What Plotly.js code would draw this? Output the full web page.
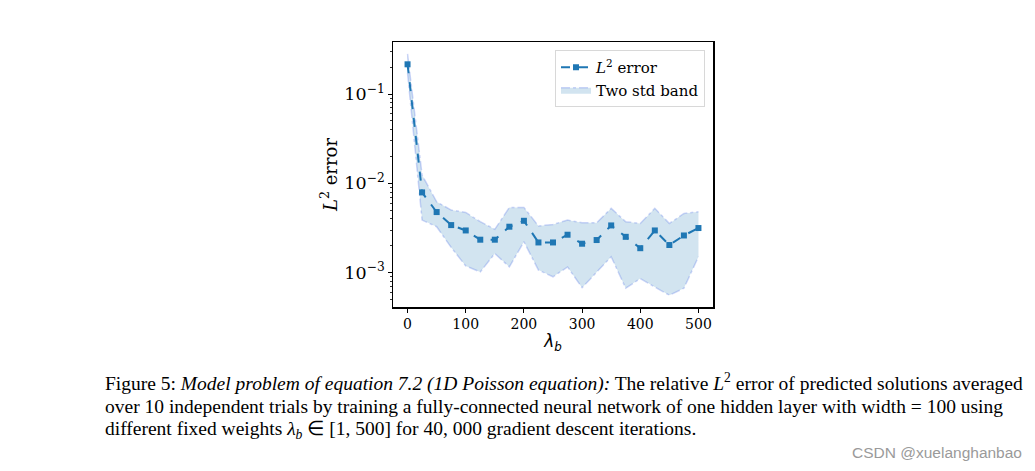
<!DOCTYPE html>
<html>
<head>
<meta charset="utf-8">
<script src="https://cdn.plot.ly/plotly-3.0.1.min.js"></script>
<style>html,body{margin:0;padding:0;background:#fff;} #chart{width:1035px;height:471px;}</style>
</head>
<body>
<div id="chart"></div>
<script>
// ---- data ----
const lambdaB = [0, 25, 50, 75, 100, 125, 150, 175, 200, 225, 250, 275, 300, 325, 350, 375, 400, 425, 450, 475, 500];
const meanErr = [0.215, 0.00792, 0.00477, 0.00341, 0.00297, 0.00234, 0.00234, 0.00327, 0.00381, 0.00218, 0.00218, 0.00266, 0.00211, 0.00232, 0.00338, 0.00252, 0.00188, 0.00297, 0.00204, 0.00261, 0.00316];
const bandUpper = [0.281, 0.0124, 0.00622, 0.00502, 0.00473, 0.00372, 0.00306, 0.00538, 0.00538, 0.00333, 0.00347, 0.00388, 0.00362, 0.00362, 0.00525, 0.00372, 0.00356, 0.00525, 0.00356, 0.0046, 0.00481];
const bandLower = [0.171, 0.00388, 0.00327, 0.00192, 0.00119, 0.00102, 0.00164, 0.00116, 0.00222, 0.00107, 0.00090, 0.00116, 0.00068, 0.00102, 0.00151, 0.00067, 0.00086, 0.00069, 0.00056, 0.00067, 0.00151];
const xTicks = [0, 100, 200, 300, 400, 500];
const seriesNames = ["<i>L</i><sup>2</sup> error", "Two std band"];
const captionLines = [
  "Figure 5: <i>Model problem of equation 7.2 (1D Poisson equation):</i> The relative <i>L</i><sup>2</sup> error of predicted solutions averaged",
  "over 10 independent trials by training a fully-connected neural network of one hidden layer with width = 100 using",
  "different fixed weights <i>λ<sub>b</sub></i> ∈ [1, 500] for 40, 000 gradient descent iterations."
];
const watermark = "CSDN @xuelanghanbao";

// ---- layout geometry ----
const W = 1035, H = 471;
const L = 393, R = 713, T = 42, B = 307;
const pw = R - L, ph = B - T;
const px = x => (x - L) / pw;
const py = y => (B - y) / ph;

const blue = "#1f77b4";
const traces = [
  {x: lambdaB, y: bandUpper, type: "scatter", mode: "lines",
   line: {color: "rgba(80,110,230,0.28)", width: 1.5, dash: "dashdot"},
   showlegend: false, hoverinfo: "skip"},
  {x: lambdaB, y: bandLower, type: "scatter", mode: "lines", fill: "tonexty",
   fillcolor: "rgba(31,119,180,0.2)",
   line: {color: "rgba(80,110,230,0.28)", width: 1.5, dash: "dashdot"},
   name: seriesNames[1], legendrank: 2},
  {x: lambdaB, y: meanErr, type: "scatter", mode: "lines+markers",
   line: {color: blue, width: 2, dash: "dash"},
   marker: {symbol: "square", size: 6, color: blue},
   name: seriesNames[0], legendrank: 1}
];

const tickFont = {family: "DejaVu Serif", size: 14, color: "#000"};
const annotations = captionLines.map((t, i) => ({
  text: t, xref: "paper", yref: "paper", x: px(103), y: py(382.5 + i * 23.5),
  xanchor: "left", yanchor: "middle", showarrow: false,
  font: {family: "Liberation Serif", size: 19.5, color: "#000"}
}));
annotations.push({
  text: watermark, xref: "paper", yref: "paper", x: px(1024), y: py(452),
  xanchor: "right", yanchor: "middle", showarrow: false,
  font: {family: "Liberation Sans Narrow, Liberation Sans", size: 15.5, color: "#9a9a9a"}
});

const layout = {
  width: W, height: H,
  margin: {l: L, r: W - R, t: T, b: H - B, pad: 0},
  paper_bgcolor: "#fff", plot_bgcolor: "#fff",
  showlegend: true,
  legend: {x: px(705), y: py(50), xanchor: "right", yanchor: "top", traceorder: "normal",
    bgcolor: "rgba(255,255,255,0.8)", bordercolor: "#d8d8d8", borderwidth: 1,
    font: {family: "DejaVu Serif", size: 15, color: "#000"}, tracegroupgap: 2},
  xaxis: {range: [-25, 525], tickvals: xTicks, ticktext: xTicks.map(String),
    ticks: "outside", ticklen: 4, tickwidth: 1, tickcolor: "#000",
    showline: true, mirror: true, linecolor: "#000", linewidth: 1.5,
    showgrid: false, zeroline: false, tickfont: tickFont,
    title: {text: "<i>λ<sub>b</sub></i>", font: {family: "DejaVu Sans", size: 17, color: "#000"}, standoff: 4}},
  yaxis: {type: "log", range: [-3.384, -0.418], dtick: 1, exponentformat: "power",
    ticks: "outside", ticklen: 4, tickwidth: 1, tickcolor: "#000",
    minor: {ticks: "outside", ticklen: 2, tickwidth: 0.8, tickcolor: "#000", showgrid: false},
    showline: true, mirror: true, linecolor: "#000", linewidth: 1.5,
    showgrid: false, zeroline: false, tickfont: tickFont,
    title: {text: "<i>L</i><sup>2</sup> error", font: {family: "DejaVu Serif", size: 18, color: "#000"}, standoff: 2}},
  annotations: annotations
};

Plotly.newPlot("chart", traces, layout, {staticPlot: true, displayModeBar: false});
</script>
</body>
</html>
